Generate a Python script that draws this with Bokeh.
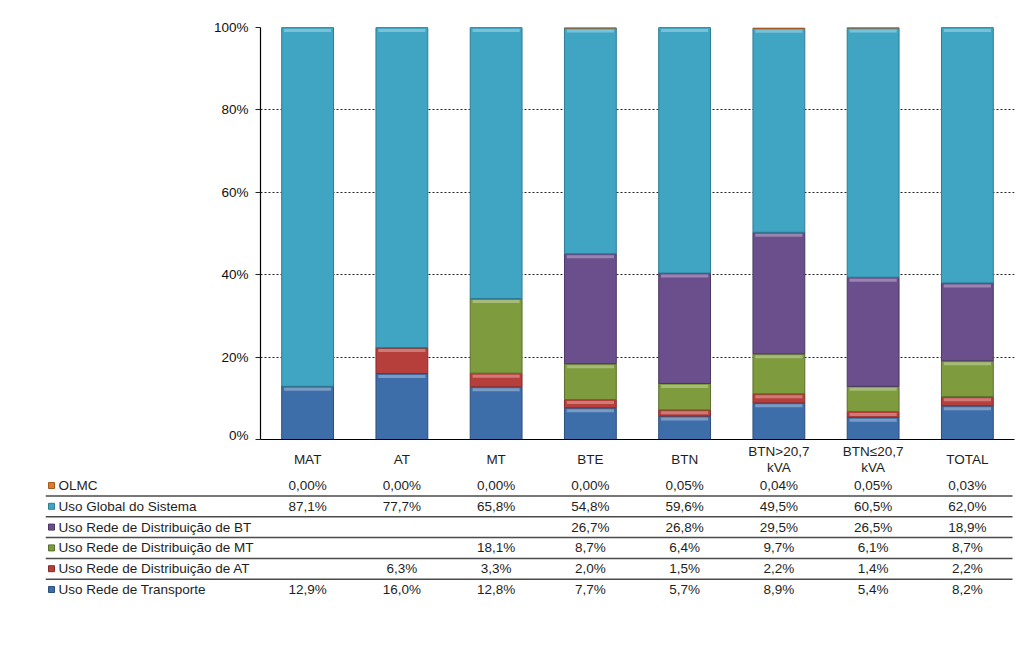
from bokeh.plotting import figure
from bokeh.models import Range1d, FixedTicker, NumeralTickFormatter, ColumnDataSource
from bokeh.layouts import column
from bokeh.embed import file_html
from bokeh.resources import INLINE
from bokeh.core.properties import value

# ---------------- data ----------------
categories = ["MAT", "AT", "MT", "BTE", "BTN", "BTN>20,7\nkVA", "BTN≤20,7\nkVA", "TOTAL"]
transporte = [12.9, 16.0, 12.8, 7.7, 5.7, 8.9, 5.4, 8.2]
dist_at = [None, 6.3, 3.3, 2.0, 1.5, 2.2, 1.4, 2.2]
dist_mt = [None, None, 18.1, 8.7, 6.4, 9.7, 6.1, 8.7]
dist_bt = [None, None, None, 26.7, 26.8, 29.5, 26.5, 18.9]
uso_global = [87.1, 77.7, 65.8, 54.8, 59.6, 49.5, 60.5, 62.0]
olmc = [0.00, 0.00, 0.00, 0.00, 0.05, 0.04, 0.05, 0.03]

series_names = ["Uso Rede de Transporte", "Uso Rede de Distribuição de AT",
                "Uso Rede de Distribuição de MT", "Uso Rede de Distribuição de BT",
                "Uso Global do Sistema", "OLMC"]
series_values = [transporte, dist_at, dist_mt, dist_bt, uso_global, olmc]
series_decimals = [1, 1, 1, 1, 1, 2]
colors = ["#3E6EA9", "#B73F3B", "#7E9B3E", "#6A4F8C", "#3FA5C3", "#E07B2B"]
edges = ["#2B4F7C", "#832C2A", "#5A6F2B", "#4A3764", "#2C7C94", "#A85A1E"]
y_ticks = [0, 0.2, 0.4, 0.6, 0.8, 1.0]

FONT = "Liberation Sans"

# page geometry (Bokeh's page has no body margin)
FRAME_L, FRAME_R = 260, 1014
FRAME_T, FRAME_B = 27, 439
TABLE_L = 45
W = FRAME_R + 1


def lighten(hex_color, f):
    h = hex_color.lstrip("#")
    r, g, b = (int(h[i:i + 2], 16) for i in (0, 2, 4))
    r, g, b = (int(c + (255 - c) * f) for c in (r, g, b))
    return f"#{r:02x}{g:02x}{b:02x}"


# ---------------- chart ----------------
idx = list(range(len(categories)))
src = {"x": idx}
keys = []
for k, vals in enumerate(series_values):
    key = f"s{k}"
    keys.append(key)
    src[key] = [(v or 0) / 100.0 for v in vals]
source = ColumnDataSource(src)

BOT = 3
p = figure(width=W, height=FRAME_B + BOT,
           x_range=Range1d(-0.5, 7.5), y_range=Range1d(0, 1),
           output_backend="svg", toolbar_location=None,
           min_border_left=FRAME_L, min_border_right=1,
           min_border_top=FRAME_T, min_border_bottom=BOT)
p.frame_align = False
p.outline_line_color = None
BAR_W = 0.55
p.vbar_stack(keys, x="x", width=BAR_W, source=source,
             fill_color=colors, line_color=edges, line_width=1)

# bevel highlight along the top of each segment
px_y = 1.0 / (FRAME_B - FRAME_T)
hx, htop, hbot, hcol = [], [], [], []
cum = [0.0] * len(idx)
for k, key in enumerate(keys):
    for i in idx:
        v = src[key][i]
        top = cum[i] + v
        if v * (FRAME_B - FRAME_T) >= 5:
            hx.append(i)
            htop.append(top - 1.5 * px_y)
            hbot.append(top - 4.5 * px_y)
            hcol.append(lighten(colors[k], 0.35))
        cum[i] = top
p.vbar(x=hx, top=htop, bottom=hbot, width=BAR_W - 0.05, fill_color=hcol,
       line_color=None, fill_alpha=0.9)

p.xaxis.ticker = FixedTicker(ticks=[])
p.xaxis.major_tick_out = 0
p.xaxis.major_tick_in = 0
p.xaxis.minor_tick_out = 0
p.xaxis.major_label_standoff = 0
p.xaxis.axis_line_color = "black"
p.xaxis.axis_line_width = 1.2

p.yaxis.ticker = FixedTicker(ticks=y_ticks)
p.yaxis.formatter = NumeralTickFormatter(format="0%")
p.yaxis.major_tick_out = 5
p.yaxis.major_tick_in = 0
p.yaxis.minor_tick_out = 0
p.yaxis.minor_tick_in = 0
p.yaxis.major_label_standoff = 7
p.yaxis.major_label_text_font = FONT
p.yaxis.major_label_text_font_size = "13.5px"
p.yaxis.major_label_text_color = "#111111"
p.yaxis.axis_line_color = "black"
p.yaxis.axis_line_width = 1.2
p.yaxis.major_tick_line_color = "#222222"

p.xgrid.visible = False
p.ygrid.ticker = FixedTicker(ticks=y_ticks)
p.ygrid.grid_line_color = "#222222"
p.ygrid.grid_line_dash = "2 2"
p.ygrid.grid_line_width = 1

# ---------------- data table ----------------
px_per_unit = (FRAME_R - FRAME_L) / 8.0
Y0 = p.height
H = 170
x_start = -0.5 - (FRAME_L - TABLE_L) / px_per_unit


def xpx(page_x):
    return -0.5 + (page_x - FRAME_L) / px_per_unit


t = figure(width=W, height=H, x_range=Range1d(x_start, 7.5),
           y_range=Range1d(Y0 + H, Y0),
           output_backend="svg", toolbar_location=None,
           x_axis_location=None, y_axis_location=None,
           min_border_left=TABLE_L, min_border_right=1,
           min_border_top=0, min_border_bottom=0)
t.frame_align = False
t.outline_line_color = None
t.grid.visible = False

TXT = "#1E1E1E"
FS = "13.5px"
t.text(x=idx, y=[459] * len(idx), text=categories, text_align="center",
       text_baseline="middle", text_font=value(FONT), text_font_size=FS,
       text_color=TXT, text_line_height=1.1)

row_order = [5, 4, 3, 2, 1, 0]  # OLMC at top
row_y = [485 + 20.8 * r for r in range(len(row_order))]

t.scatter(x=[xpx(51)] * len(row_order), y=row_y, marker="square", size=6,
          fill_color=[colors[k] for k in row_order],
          line_color=[edges[k] for k in row_order])
t.text(x=[xpx(58)] * len(row_order), y=row_y,
       text=[series_names[k] for k in row_order],
       text_align="left", text_baseline="middle", text_font=value(FONT),
       text_font_size=FS, text_color=TXT)

t.segment(x0=[xpx(45)] * 5, x1=[xpx(1012)] * 5,
          y0=[y + 10.5 for y in row_y[:5]], y1=[y + 10.5 for y in row_y[:5]],
          line_color="#4A4A4A", line_width=1.5)

vx, vy, vt = [], [], []
for r, k in enumerate(row_order):
    dec = series_decimals[k]
    for i, v in enumerate(series_values[k]):
        if v is None:
            continue
        vx.append(i)
        vy.append(row_y[r])
        vt.append(f"{v:.{dec}f}".replace(".", ",") + "%")
t.text(x=vx, y=vy, text=vt, text_align="center", text_baseline="middle",
       text_font=value(FONT), text_font_size=FS, text_color=TXT)

layout = column(p, t, spacing=0)
open("out.html", "w").write(file_html(layout, INLINE))
